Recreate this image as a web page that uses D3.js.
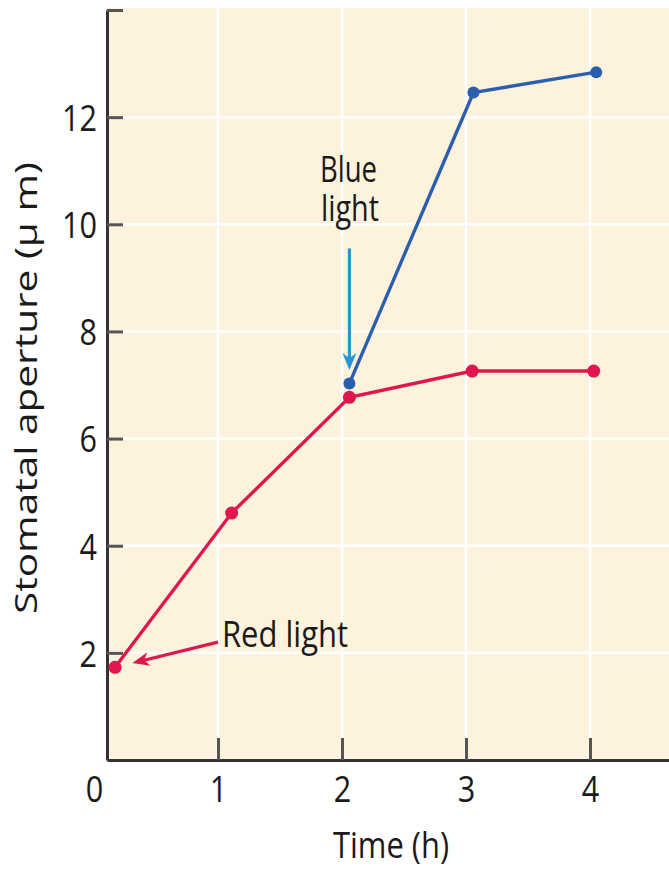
<!DOCTYPE html>
<html>
<head>
<meta charset="utf-8">
<script src="https://cdn.jsdelivr.net/npm/d3@7"></script>
<style>
  body { margin: 0; background: #fff; }
  text { font-family: "Open Sans", sans-serif; fill: #1a1a1a; }
</style>
</head>
<body>
<div id="container"></div>
<script>
// data
var redTime = [0.17, 1.11, 2.06, 3.05, 4.03];
var redAperture = [1.73, 4.61, 6.77, 7.26, 7.26];
var blueTime = [2.06, 3.06, 4.05];
var blueAperture = [7.03, 12.46, 12.84];
var xTicks = [0, 1, 2, 3, 4];
var yTicks = [2, 4, 6, 8, 10, 12, 14];

var width = 669;
var height = 872;

var red = "#e0174e";
var blue = "#2b5eac";
var arrowBlue = "#2796d5";

var svg = d3
  .select("#container")
  .append("svg")
  .attr("width", width)
  .attr("height", height);

var x = d3.scaleLinear().domain([0.105, 4.637]).range([107, 669]);
var y = d3.scaleLinear().domain([0, 14]).range([760, 10]);

// plot background
svg
  .append("rect")
  .attr("x", x(0.105))
  .attr("y", y(14) - 2)
  .attr("width", width - x(0.105))
  .attr("height", y(0) - y(14) + 2)
  .attr("fill", "#fdf3dc");

// white grid
svg
  .selectAll(".hgrid")
  .data(yTicks.filter(d => d < 14))
  .enter()
  .append("line")
  .attr("x1", x(0.105))
  .attr("x2", width)
  .attr("y1", d => y(d))
  .attr("y2", d => y(d))
  .attr("stroke", "#fff")
  .attr("stroke-width", 2.5);

svg
  .selectAll(".vgrid")
  .data(xTicks.filter(d => d > 0))
  .enter()
  .append("line")
  .attr("x1", d => x(d))
  .attr("x2", d => x(d))
  .attr("y1", y(14) - 2)
  .attr("y2", y(0))
  .attr("stroke", "#fff")
  .attr("stroke-width", 2.5);

// axes
var xAxis = svg
  .append("g")
  .attr("transform", "translate(0," + y(0) + ")")
  .call(
    d3.axisBottom(x)
      .tickValues(xTicks)
      .tickSizeInner(-22)
      .tickSizeOuter(0)
      .tickPadding(16)
      .tickFormat(d3.format("d"))
  );
xAxis.selectAll(".tick").filter(d => d === 0).select("line").remove();

var yAxis = svg
  .append("g")
  .attr("transform", "translate(" + x(0.105) + ",0)")
  .call(
    d3.axisLeft(y)
      .tickValues(yTicks)
      .tickSizeInner(-16)
      .tickSizeOuter(0)
      .tickPadding(10)
      .tickFormat(d => (d === 14 ? "" : d))
  );

[xAxis, yAxis].forEach(function(g) {
  g.select(".domain").attr("stroke", "#333").attr("stroke-width", 3);
  g.selectAll(".tick line").attr("stroke", "#555").attr("stroke-width", 3);
  g.selectAll(".tick text")
    .style("font-family", "Open Sans")
    .style("font-size", "37px")
    .attr("fill", "#1a1a1a")
    .attr("lengthAdjust", "spacingAndGlyphs")
    .attr("textLength", function(d) { return String(d).length * 17.5; });
});
yAxis.selectAll(".tick text").attr("dy", "0.36em");

// axis titles
svg
  .append("text")
  .attr("x", 391)
  .attr("y", 858)
  .style("text-anchor", "middle")
  .style("font-size", "36px")
  .attr("lengthAdjust", "spacingAndGlyphs")
  .attr("textLength", 116)
  .text("Time (h)");

svg
  .append("text")
  .attr("transform", "translate(37,388) rotate(-90)")
  .style("text-anchor", "middle")
  .style("font-size", "31px")
  .attr("lengthAdjust", "spacingAndGlyphs")
  .attr("textLength", 452)
  .text("Stomatal aperture (μ m)");

// lines
var line = d3.line().x(d => x(d[0])).y(d => y(d[1]));
var redPts = d3.zip(redTime, redAperture);
var bluePts = d3.zip(blueTime, blueAperture);

svg
  .append("path")
  .datum(bluePts)
  .attr("d", line)
  .attr("fill", "none")
  .attr("stroke", blue)
  .attr("stroke-width", 3.4);

svg
  .append("path")
  .datum(redPts)
  .attr("d", line)
  .attr("fill", "none")
  .attr("stroke", red)
  .attr("stroke-width", 3.4);

svg
  .selectAll(".bdot")
  .data(bluePts)
  .enter()
  .append("circle")
  .attr("cx", d => x(d[0]))
  .attr("cy", d => y(d[1]))
  .attr("r", 6)
  .attr("fill", blue);

svg
  .selectAll(".rdot")
  .data(redPts)
  .enter()
  .append("circle")
  .attr("cx", d => x(d[0]))
  .attr("cy", d => y(d[1]))
  .attr("r", 6.5)
  .attr("fill", red);

// annotation arrows
function arrow(x1, y1, x2, y2, color) {
  var ang = Math.atan2(y2 - y1, x2 - x1);
  var len = 17, half = 7, back = 12;
  var bx = x2 - Math.cos(ang) * back, by = y2 - Math.sin(ang) * back;
  svg
    .append("line")
    .attr("x1", x1)
    .attr("y1", y1)
    .attr("x2", bx)
    .attr("y2", by)
    .attr("stroke", color)
    .attr("stroke-width", 3.2);
  var px = -Math.sin(ang), py = Math.cos(ang);
  var lx = x2 - Math.cos(ang) * len, ly = y2 - Math.sin(ang) * len;
  svg
    .append("path")
    .attr("d", "M" + x2 + "," + y2 +
      "L" + (lx + px * half) + "," + (ly + py * half) +
      "L" + bx + "," + by +
      "L" + (lx - px * half) + "," + (ly - py * half) + "Z")
    .attr("fill", color);
}

arrow(x(1.0), y(2.2), x(0.31), y(1.81), red);
arrow(x(2.06), y(9.55), x(2.06), y(7.28), arrowBlue);

// labels
svg
  .append("text")
  .attr("x", 222)
  .attr("y", 647)
  .style("font-size", "36px")
  .attr("lengthAdjust", "spacingAndGlyphs")
  .attr("textLength", 126)
  .text("Red light");

var blueLabel = svg
  .append("text")
  .attr("y", 182)
  .style("font-size", "36px");
blueLabel
  .append("tspan")
  .attr("x", 320)
  .attr("lengthAdjust", "spacingAndGlyphs")
  .attr("textLength", 57)
  .text("Blue");
blueLabel
  .append("tspan")
  .attr("x", 321)
  .attr("dy", 39)
  .attr("lengthAdjust", "spacingAndGlyphs")
  .attr("textLength", 58)
  .text("light");
</script>
</body>
</html>
